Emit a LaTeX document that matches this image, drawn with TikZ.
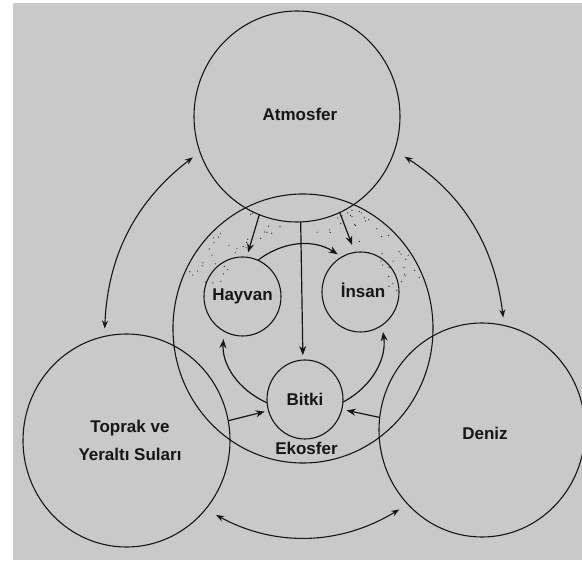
\documentclass[tikz,border=0pt]{standalone}
\usepackage{fontspec}
\setmainfont{Liberation Sans}
\usetikzlibrary{shapes.geometric,arrows.meta}
\definecolor{paper}{RGB}{201,201,201}
\definecolor{ink}{RGB}{22,22,22}

\begin{document}
\begin{tikzpicture}
[
    x=1pt, y=1pt,
    ring/.style 2 args={ellipse, draw=ink, line width=1.1pt, inner sep=0pt, outer sep=0pt, minimum width=#1, minimum height=#2},
    word/.style={text=ink, font=\bfseries\fontsize{17}{28}\selectfont, align=center},
    flow/.style={draw=ink, line width=1.2pt, -{Stealth[length=9pt, width=7pt]}},
    twoway/.style={draw=ink, line width=1.1pt, {Stealth[length=8pt, width=6pt]}-{Stealth[length=8pt, width=6pt]}},
]
\useasboundingbox (0,0) rectangle (582,563);
\fill[white] (0,0) rectangle (582,563);
\fill[paper] (13,3) rectangle (582,560);
\pgfmathsetseed{12}
\foreach \i in {1,...,90}
{
    \pgfmathsetmacro{\a}{20+140*rnd}
    \pgfmathsetmacro{\f}{0.72+0.26*rnd}
    \fill[ink] ({303+130*\f*cos(\a)}, {234.5+134.5*\f*sin(\a)}) circle (0.6);
}
\node[ring={206}{211}, fill=paper, label={[word, xshift=3pt, yshift=2.5pt]center:Atmosfer}] (atmo) at (297,446.5) {};
\node[ring={260}{269}] (eko) at (303,234.5) {};
\node[ring={207}{213}, label={[word, xshift=3.5pt]center:{Toprak ve\\Yeraltı Suları}}] (toprak) at (126.5,122.5) {};
\node[ring={206}{214}, label={[word, xshift=3pt, yshift=-3pt]center:Deniz}] (deniz) at (482,133) {};
\node[ring={77}{79}, label={[word]center:Hayvan}] (hayvan) at (242.5,266.5) {};
\node[ring={77}{80}, label={[word, xshift=2.5pt, yshift=2pt]center:İnsan}] (insan) at (360.5,271) {};
\node[ring={76}{79}, label={[word]center:Bitki}] (bitki) at (305,163.5) {};
\node[word] (ekoname) at (306.5,115) {Ekosfer};

\draw[twoway, shorten <=9pt, shorten >=8pt] (atmo.200) to[bend right=25] (toprak.102);
\draw[twoway, shorten <=12pt, shorten >=8pt] (atmo.341) to[bend left=25] (deniz.78);
\draw[twoway, shorten <=12pt, shorten >=10pt] (toprak.319) to[bend right=30] (deniz.225);

\draw[flow, shorten >=5pt] (atmo.249) -- (hayvan.84);
\draw[flow, shorten >=8pt] (atmo.294) -- (insan.98);
\draw[flow, shorten >=5pt] (atmo.272) -- (bitki.93);
\draw[flow, shorten >=5pt] (hayvan.67) to[bend left=35] (insan.118);
\draw[flow, shorten >=8pt] (bitki.185) to[bend left=35] (hayvan.242);
\draw[flow, shorten >=7pt] (bitki.356) to[bend right=35] (insan.303);
\draw[flow, shorten >=4pt] (toprak.11) -- (bitki.197);
\draw[flow, shorten >=5pt] (deniz.173) -- (bitki.345);
\end{tikzpicture}
\end{document}
